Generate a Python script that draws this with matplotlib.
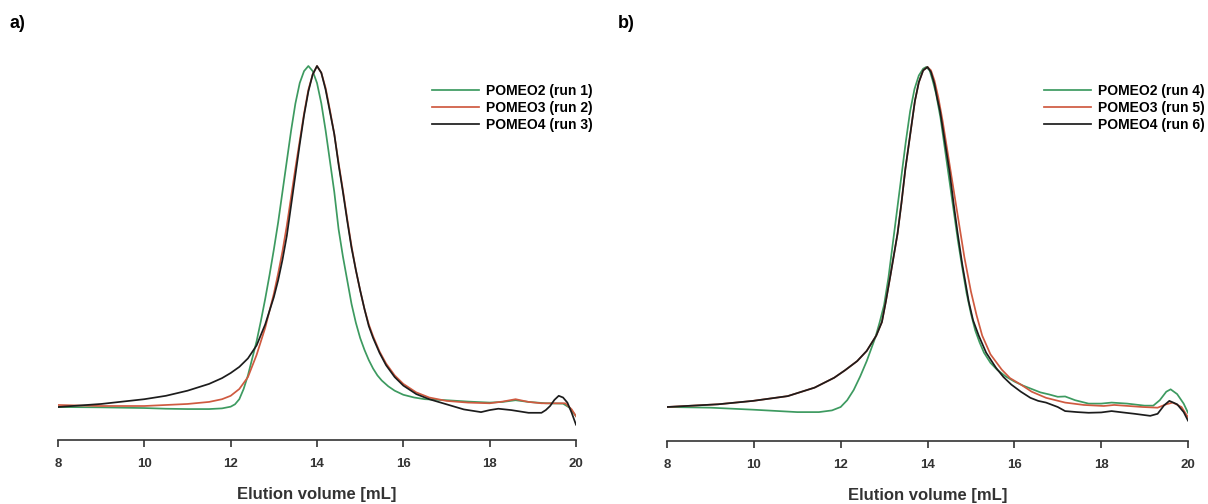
import matplotlib.pyplot as plt

plt.rcParams['font.family'] = ['Liberation Sans', 'DejaVu Sans']

# panel a) runs 1-3
a_green_x = [8.0, 9.0, 10.0, 10.5, 11.0, 11.5, 11.8, 12.0,
             12.1, 12.2, 12.3, 12.4, 12.5, 12.6, 12.7, 12.8, 12.9, 13.0,
             13.1, 13.2, 13.3, 13.4, 13.5, 13.6, 13.7, 13.8, 13.9, 14.0,
             14.1, 14.2, 14.3, 14.4, 14.5, 14.6, 14.7, 14.8, 14.9, 15.0,
             15.1, 15.2, 15.3, 15.4, 15.5, 15.65, 15.8, 16.0, 16.25, 16.5,
             17.0, 17.5, 18.0, 18.3, 18.6, 18.9, 19.3, 19.7, 19.85, 20.0]
a_green_y = [-0.003, -0.004, -0.006, -0.008, -0.009, -0.009, -0.007, -0.002,
             0.005, 0.02, 0.05, 0.09, 0.14, 0.19, 0.25, 0.315, 0.385, 0.46,
             0.54, 0.63, 0.72, 0.81, 0.89, 0.95, 0.985, 1.0, 0.985, 0.95,
             0.89, 0.81, 0.72, 0.63, 0.52, 0.44, 0.37, 0.3, 0.245, 0.2,
             0.165, 0.135, 0.11, 0.09, 0.075, 0.058, 0.045, 0.033, 0.025, 0.02,
             0.017, 0.013, 0.01, 0.012, 0.017, 0.012, 0.008, 0.007, -0.005, -0.03]

a_red_x = [8.0, 9.0, 10.0, 10.5, 11.0, 11.5, 11.8, 12.0,
           12.2, 12.4, 12.6, 12.8, 13.0,
           13.1, 13.2, 13.3, 13.4, 13.5, 13.6, 13.7, 13.8, 13.9, 14.0,
           14.1, 14.2, 14.3, 14.4, 14.5, 14.6, 14.7, 14.8, 14.9, 15.0,
           15.1, 15.2, 15.3, 15.45, 15.6, 15.8, 16.0, 16.3, 16.6,
           17.0, 17.5, 18.0, 18.3, 18.6, 18.9, 19.2, 19.5, 19.75, 19.9, 20.0]
a_red_y = [0.003, 0.0, 0.0, 0.003, 0.006, 0.012, 0.02, 0.03,
           0.05, 0.085, 0.15, 0.23, 0.33,
           0.39, 0.455, 0.53, 0.615, 0.7, 0.78, 0.86, 0.93, 0.975, 1.0,
           0.98, 0.935, 0.87, 0.8, 0.715, 0.635, 0.55, 0.47, 0.4, 0.34,
           0.285, 0.24, 0.205, 0.16, 0.125, 0.09, 0.065, 0.04, 0.025,
           0.015, 0.01, 0.008, 0.013, 0.02, 0.012, 0.008, 0.008, 0.008, -0.01, -0.03]

a_black_x = [8.0, 9.0, 10.0, 10.5, 11.0, 11.5, 11.8, 12.0,
             12.2, 12.4, 12.6, 12.8, 13.0,
             13.1, 13.2, 13.3, 13.4, 13.5, 13.6, 13.7, 13.8, 13.9, 14.0,
             14.1, 14.2, 14.3, 14.4, 14.5, 14.6, 14.7, 14.8, 14.9, 15.0,
             15.1, 15.2, 15.3, 15.45, 15.6, 15.8, 16.0, 16.3, 16.6,
             17.0, 17.4, 17.8, 18.0, 18.2, 18.5, 18.9, 19.2,
             19.3, 19.4, 19.5, 19.6, 19.7, 19.8, 19.9, 20.0]
a_black_y = [-0.003, 0.006, 0.02, 0.03, 0.045, 0.065, 0.082, 0.097,
             0.115, 0.14, 0.178, 0.24, 0.32,
             0.37, 0.43, 0.5, 0.59, 0.68, 0.77, 0.855, 0.925, 0.975, 1.0,
             0.98, 0.93, 0.865, 0.8, 0.71, 0.63, 0.545, 0.465, 0.4, 0.34,
             0.285, 0.235, 0.2, 0.156, 0.12, 0.085, 0.06, 0.035, 0.02,
             0.005, -0.01, -0.018, -0.012, -0.008, -0.012, -0.02, -0.02,
             -0.012, 0.0, 0.018, 0.03, 0.025, 0.01, -0.02, -0.055]

# panel b) runs 4-6
b_green_x = [8.0, 9.0, 10.0, 11.0, 11.5, 11.8, 12.0, 12.15, 12.3, 12.45, 12.6, 12.7, 12.8, 12.9,
             13.0, 13.1, 13.2, 13.3, 13.4, 13.5, 13.6, 13.7, 13.8, 13.9, 13.97, 14.05, 14.12, 14.2,
             14.3, 14.4, 14.5, 14.6, 14.7, 14.8, 14.9, 15.0, 15.1, 15.2, 15.3, 15.45, 15.6, 15.8,
             16.0, 16.2, 16.4, 16.6, 16.8, 17.0, 17.17, 17.4, 17.71, 18.0, 18.24, 18.6, 19.0, 19.2,
             19.35, 19.5, 19.6, 19.75, 19.9, 20.0]
b_green_y = [0.0, -0.002, -0.008, -0.015, -0.015, -0.01, 0.0, 0.02, 0.05, 0.09, 0.135, 0.17,
             0.205, 0.25, 0.3, 0.38, 0.48, 0.58, 0.68, 0.78, 0.87, 0.935, 0.975, 0.995, 1.0, 0.99,
             0.96, 0.92, 0.85, 0.76, 0.67, 0.58, 0.49, 0.41, 0.335, 0.275, 0.225, 0.19, 0.16, 0.13,
             0.11, 0.09, 0.075, 0.063, 0.053, 0.043, 0.037, 0.03, 0.031, 0.02, 0.01, 0.01, 0.013,
             0.01, 0.004, 0.004, 0.02, 0.045, 0.052, 0.038, 0.01, -0.017]

b_red_x = [8.0, 9.18, 9.98, 10.78, 11.4, 11.85, 12.1, 12.38, 12.6, 12.82, 12.95, 13.04, 13.15,
           13.31, 13.4, 13.49, 13.6, 13.71, 13.8, 13.9, 14.0, 14.08, 14.16, 14.25, 14.35, 14.45,
           14.55, 14.65, 14.75, 14.85, 15.0, 15.13, 15.26, 15.45, 15.71, 15.9, 16.15, 16.4, 16.73,
           17.17, 17.6, 18.06, 18.3, 18.95, 19.3, 19.5, 19.65, 19.85, 20.0]
b_red_y = [0.0, 0.008, 0.018, 0.032, 0.057, 0.086, 0.108, 0.135, 0.165, 0.21, 0.25, 0.31, 0.39,
           0.51, 0.6, 0.7, 0.8, 0.9, 0.955, 0.99, 1.0, 0.99, 0.96, 0.91, 0.84, 0.76, 0.68, 0.6,
           0.52, 0.44, 0.34, 0.27, 0.21, 0.155, 0.11, 0.085, 0.066, 0.045, 0.027, 0.013, 0.006,
           0.003, 0.006, 0.0, -0.002, 0.008, 0.013, 0.0, -0.03]

b_black_x = [8.0, 9.18, 9.98, 10.78, 11.4, 11.85, 12.1, 12.38, 12.6, 12.82, 12.95, 13.04, 13.15,
             13.31, 13.4, 13.49, 13.6, 13.71, 13.8, 13.9, 14.0, 14.08, 14.16, 14.22, 14.29, 14.4,
             14.51, 14.6, 14.69, 14.8, 14.95, 15.05, 15.18, 15.35, 15.58, 15.75, 15.93, 16.15,
             16.37, 16.55, 16.73, 17.0, 17.17, 17.45, 17.71, 18.0, 18.24, 18.5, 18.77, 19.13, 19.3,
             19.45, 19.57, 19.75, 19.9, 20.0]
b_black_y = [0.0, 0.008, 0.018, 0.032, 0.057, 0.086, 0.108, 0.135, 0.165, 0.21, 0.25, 0.31, 0.39,
             0.51, 0.6, 0.7, 0.8, 0.9, 0.955, 0.99, 1.0, 0.985, 0.95, 0.91, 0.87, 0.78, 0.69, 0.6,
             0.515, 0.42, 0.31, 0.255, 0.21, 0.16, 0.115, 0.088, 0.066, 0.045, 0.027, 0.018, 0.013,
             0.0, -0.012, -0.015, -0.017, -0.016, -0.012, -0.016, -0.02, -0.026, -0.02, 0.005,
             0.018, 0.008, -0.015, -0.04]

a_labels = ["POMEO2 (run 1)", "POMEO3 (run 2)", "POMEO4 (run 3)"]
b_labels = ["POMEO2 (run 4)", "POMEO3 (run 5)", "POMEO4 (run 6)"]
x_ticks = [8, 10, 12, 14, 16, 18, 20]

green = "#3d9a60"
red = "#cf5a40"
black = "#1c1c1c"
axis_col = "#333333"

fig = plt.figure(figsize=(12.08, 5.04), dpi=100)
ax_a = fig.add_axes([58 / 1208, 64 / 504, 518 / 1208, 391 / 504])
ax_b = fig.add_axes([667 / 1208, 63 / 504, 521 / 1208, 391 / 504])

panels = [
    (ax_a, [(a_green_x, a_green_y), (a_red_x, a_red_y), (a_black_x, a_black_y)], a_labels, 432),
    (ax_b, [(b_green_x, b_green_y), (b_red_x, b_red_y), (b_black_x, b_black_y)], b_labels, 1044),
]

for ax, series, labels, leg_x in panels:
    for (xs, ys), col, lab in zip(series, [green, red, black], labels):
        ax.plot(xs, ys, color=col, lw=1.25, label=lab)

    ax.set_xlim(8, 20)
    ax.set_ylim(-0.1, 1.05)
    ax.set_xticks(x_ticks)
    ax.set_yticks([])
    for side in ["top", "right", "left"]:
        ax.spines[side].set_visible(False)
    ax.spines["bottom"].set_color(axis_col)
    ax.spines["bottom"].set_linewidth(1.2)
    ax.tick_params(axis="x", direction="out", length=5, width=1.2, color=axis_col,
                   labelsize=9.5, pad=8)
    for t in ax.get_xticklabels():
        t.set_fontweight("bold")
        t.set_color(axis_col)
    ax.set_xlabel("Elution volume [mL]", fontsize=12, fontweight="bold",
                  color=axis_col, labelpad=12)
    ax.patch.set_alpha(0)

    ax.legend(loc="upper left", bbox_to_anchor=(leg_x / 1208, 1 - 84 / 504),
              bbox_transform=fig.transFigure, frameon=False, borderpad=0, borderaxespad=0,
              handlelength=3.4, handletextpad=0.5, labelspacing=0.22,
              prop={"weight": "bold", "size": 10})

fig.text(10 / 1208, 1 - 23 / 504, "a)", fontsize=13, fontweight="bold", va="center")
fig.text(618 / 1208, 1 - 23 / 504, "b)", fontsize=13, fontweight="bold", va="center")

fig.savefig("out.png", dpi=100, facecolor="white")
